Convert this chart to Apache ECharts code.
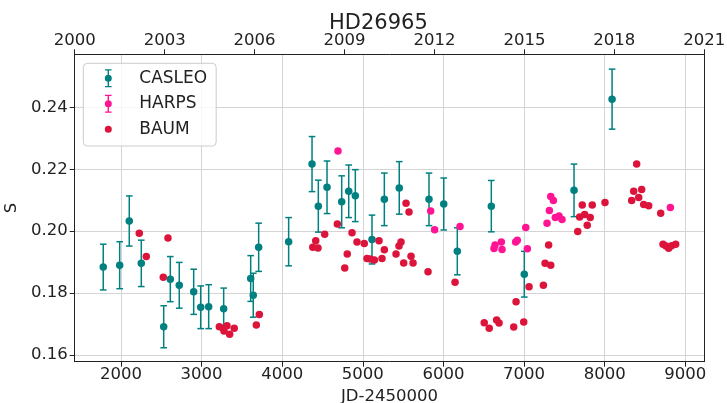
<!DOCTYPE html>
<html>
<head>
<meta charset="utf-8">
<script src="https://cdn.jsdelivr.net/npm/echarts@6/dist/echarts.min.js"></script>
<style>
  html, body { margin: 0; padding: 0; background: #fff; }
  #chart { width: 727px; height: 403px; }
</style>
</head>
<body>
<div id="chart"></div>
<script>
// CASLEO: JD-2450000, S index, error
const casleoJD = [1780, 1984, 2103, 2252, 2530, 2612, 2723, 2902, 2989, 3088, 3274, 3609, 3641, 3708,
    4080, 4370, 4448, 4556, 4738, 4825, 4907, 5114, 5267, 5452, 5821, 6004, 6172, 6594, 7003, 7620, 8092];
const casleoS = [0.1884, 0.1890, 0.2033, 0.1896, 0.1691, 0.1845, 0.1825, 0.1804, 0.1754, 0.1756, 0.1749, 0.1847, 0.1793, 0.1948,
    0.1966, 0.2217, 0.2081, 0.2142, 0.2095, 0.2129, 0.2115, 0.1973, 0.2103, 0.2140, 0.2103, 0.2088, 0.1935, 0.2081, 0.1861, 0.2132, 0.2427];
const casleoErr = [0.0074, 0.0076, 0.0081, 0.0075, 0.0068, 0.0073, 0.0074, 0.0073, 0.0069, 0.0071, 0.0067, 0.0074, 0.0071, 0.0078,
    0.0078, 0.0089, 0.0084, 0.0085, 0.0084, 0.0085, 0.0084, 0.0079, 0.0085, 0.0085, 0.0085, 0.0084, 0.0076, 0.0083, 0.0074, 0.0085, 0.0097];

// HARPS
const harpsJD = [4692, 5842, 5891, 6206, 6627, 6640, 6718, 6727, 6896, 6916, 7021, 7041, 7285, 7314, 7331, 7364, 7388, 7434, 7471, 8815];
const harpsS = [0.2259, 0.2065, 0.2005, 0.2015, 0.1944, 0.1955, 0.1965, 0.1941, 0.1965, 0.1971, 0.2012, 0.1943, 0.2026, 0.2067, 0.2112, 0.2099, 0.2044, 0.2049, 0.2038, 0.2077];

// BAUM
const baumJD = [2227, 2314, 2525, 2583, 3220, 3268, 3278, 3315, 3348, 3405, 3679, 3716,
    4379, 4416, 4444, 4527, 4684, 4776, 4807, 4866, 4928, 5018, 5052, 5093, 5143, 5201, 5238, 5267,
    5412, 5449, 5474, 5507, 5536, 5573, 5598, 5623, 5809, 6144, 6506, 6568, 6660, 6690, 6872, 6901, 6996, 7062,
    7240, 7261, 7305, 7331, 7666, 7690, 7722, 7752, 7784, 7821, 7846, 8004,
    8335, 8360, 8397, 8422, 8459, 8484, 8546, 8695, 8724, 8761, 8794, 8831, 8881];
const baumS = [0.1993, 0.1918, 0.1851, 0.1978, 0.1691, 0.1686, 0.1677, 0.1694, 0.1667, 0.1686, 0.1697, 0.1731,
    0.1948, 0.1969, 0.1946, 0.1990, 0.2023, 0.1881, 0.1926, 0.1995, 0.1965, 0.1960, 0.1912, 0.1910, 0.1907, 0.1969, 0.1912, 0.1940,
    0.1926, 0.1952, 0.1965, 0.1897, 0.2090, 0.2062, 0.1919, 0.1897, 0.1869, 0.1835, 0.1704, 0.1686, 0.1713, 0.1703, 0.1690, 0.1772, 0.1706, 0.1820,
    0.1825, 0.1896, 0.1955, 0.1890, 0.1999, 0.2046, 0.2085, 0.2054, 0.2019, 0.2044, 0.2085, 0.2093,
    0.2099, 0.2129, 0.2217, 0.2109, 0.2135, 0.2086, 0.2082, 0.2058, 0.1958, 0.1952, 0.1945, 0.1953, 0.1958];

// axis ranges
const jdRange = [1426, 9236];
const yearRange = [2000, 2021];
const yearStep = 3;
const sRange = [0.1578, 0.2572];

const TEAL = '#008080';
const PINK = '#ff1493';
const CRIMSON = '#dc143c';
const FONT = 'DejaVu Sans';
const INK = '#222';
const GRID = '#d4d4d4';

// legend icons (box 32x18, glyph near left)
const corners = 'M0,0h0.01v0.01h-0.01Z M31.99,17.99h0.01v0.01h-0.01Z ';
const dotPath = 'M6,5.5A3.5,3.5 0 1,1 6,12.5A3.5,3.5 0 1,1 6,5.5Z';
const errIcon = 'path://' + corners + 'M2.7,0h6.6v1.3h-6.6Z M2.7,16.7h6.6v1.3h-6.6Z M5.3,0h1.4v18h-1.4Z ' + dotPath;
const dotIcon = 'path://' + corners + dotPath;

const zip = (xs, ys) => xs.map((x, i) => [x, ys[i]]);

const axisLine = { show: true, onZero: false, lineStyle: { color: INK, width: 1 } };
const axisTick = { show: true, length: 5, lineStyle: { color: INK, width: 1 } };
const labelStyle = { color: INK, fontSize: 16.5, fontFamily: FONT };

const chart = echarts.init(document.getElementById('chart'));

chart.setOption({
    animation: false,
    backgroundColor: '#fff',
    title: {
        text: 'HD26965',
        left: 329,
        top: 13,
        padding: 0,
        textStyle: { fontSize: 21, fontWeight: 'normal', fontFamily: FONT, color: INK }
    },
    legend: {
        orient: 'vertical',
        left: 83.3,
        top: 63.3,
        padding: [6, 9, 7.7, 19],
        itemGap: 7.5,
        itemWidth: 32,
        itemHeight: 18,
        backgroundColor: 'rgba(255,255,255,0.8)',
        borderColor: '#cccccc',
        borderWidth: 1,
        borderRadius: 4,
        textStyle: { fontSize: 17, fontFamily: FONT, color: INK },
        data: [
            { name: 'CASLEO', icon: errIcon },
            { name: 'HARPS', icon: errIcon },
            { name: 'BAUM', icon: dotIcon }
        ]
    },
    // keep the plot box fixed, labels may sit near the edges
    grid: { left: 74.7, right: 22.7, top: 54.3, bottom: 41.3, containLabel: false, outerBoundsMode: 'none' },
    xAxis: [
        {
            type: 'value',
            position: 'bottom',
            min: jdRange[0],
            max: jdRange[1],
            splitNumber: 8,
            minInterval: 1000,
            maxInterval: 1000,
            name: 'JD-2450000',
            nameLocation: 'middle',
            nameGap: 22,
            nameTextStyle: labelStyle,
            axisLine: axisLine,
            axisTick: axisTick,
            axisLabel: Object.assign({ margin: 5, showMinLabel: false, showMaxLabel: false, formatter: v => String(v) }, labelStyle),
            splitLine: { show: true, lineStyle: { color: GRID, width: 1 } }
        },
        {
            type: 'value',
            position: 'top',
            min: yearRange[0],
            max: yearRange[1],
            interval: yearStep,
            axisLine: axisLine,
            axisTick: axisTick,
            axisLabel: Object.assign({ margin: 5, formatter: v => String(v) }, labelStyle),
            splitLine: { show: false }
        }
    ],
    yAxis: [
        {
            type: 'value',
            position: 'left',
            min: sRange[0],
            max: sRange[1],
            splitNumber: 5,
            minInterval: 0.02,
            maxInterval: 0.02,
            name: 'S',
            nameLocation: 'middle',
            nameGap: 34,
            nameRotate: 90,
            nameTextStyle: labelStyle,
            axisLine: axisLine,
            axisTick: axisTick,
            axisLabel: Object.assign({ margin: 7, showMinLabel: false, showMaxLabel: false, formatter: v => v.toFixed(2) }, labelStyle),
            splitLine: { show: true, lineStyle: { color: GRID, width: 1 } }
        },
        {
            type: 'value',
            position: 'right',
            min: sRange[0],
            max: sRange[1],
            axisLine: axisLine,
            axisTick: { show: false },
            axisLabel: { show: false },
            splitLine: { show: false }
        }
    ],
    series: [
        {
            // CASLEO error bars
            name: 'CASLEO err',
            type: 'custom',
            xAxisIndex: 0,
            yAxisIndex: 0,
            data: casleoJD.map((x, i) => [x, casleoS[i] - casleoErr[i], casleoS[i] + casleoErr[i]]),
            encode: { x: 0, y: [1, 2] },
            renderItem: (params, api) => {
                const hi = api.coord([api.value(0), api.value(2)]);
                const lo = api.coord([api.value(0), api.value(1)]);
                const cap = 3.3;
                const style = { stroke: TEAL, lineWidth: 1.5 };
                return {
                    type: 'group',
                    children: [
                        { type: 'line', shape: { x1: hi[0], y1: hi[1], x2: lo[0], y2: lo[1] }, style: style },
                        { type: 'line', shape: { x1: hi[0] - cap, y1: hi[1], x2: hi[0] + cap, y2: hi[1] }, style: style },
                        { type: 'line', shape: { x1: lo[0] - cap, y1: lo[1], x2: lo[0] + cap, y2: lo[1] }, style: style }
                    ]
                };
            },
            z: 2
        },
        {
            name: 'CASLEO',
            type: 'scatter',
            data: zip(casleoJD, casleoS),
            symbolSize: 7.5,
            itemStyle: { color: TEAL, opacity: 1 },
            z: 3
        },
        {
            name: 'HARPS',
            type: 'scatter',
            data: zip(harpsJD, harpsS),
            symbolSize: 7.5,
            itemStyle: { color: PINK, opacity: 1 },
            z: 3
        },
        {
            name: 'BAUM',
            type: 'scatter',
            data: zip(baumJD, baumS),
            symbolSize: 7.5,
            itemStyle: { color: CRIMSON, opacity: 1 },
            z: 3
        }
    ]
});
</script>
</body>
</html>
